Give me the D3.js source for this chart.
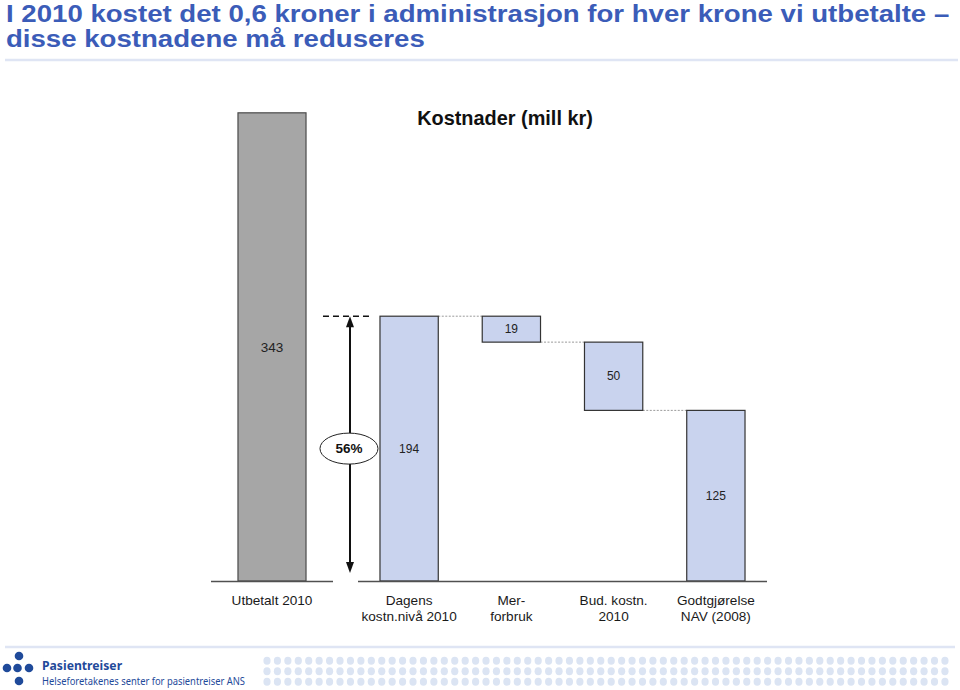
<!DOCTYPE html>
<html>
<head>
<meta charset="utf-8">
<script src="https://cdn.jsdelivr.net/npm/d3@7"></script>
<style>
  html, body { margin: 0; padding: 0; background: #fff; }
  svg { display: block; }
</style>
</head>
<body>
<svg id="chart" width="960" height="690"></svg>
<script>
// ---------- data ----------
const titleLines = [
  "I 2010 kostet det 0,6 kroner i administrasjon for hver krone vi utbetalte –",
  "disse kostnadene må reduseres"
];
const chartTitle = "Kostnader (mill kr)";
const categories = ["Utbetalt 2010", "Dagens kostn.nivå 2010", "Mer-forbruk", "Bud. kostn. 2010", "Godtgjørelse NAV (2008)"];
const categoryLines = [["Utbetalt 2010"], ["Dagens", "kostn.nivå 2010"], ["Mer-", "forbruk"], ["Bud. kostn.", "2010"], ["Godtgjørelse", "NAV (2008)"]];
const values = [343, 194, 19, 50, 125];
const barKinds = ["reference", "total", "step", "step", "total"];
const shareLabel = "56%";
const footerName = "Pasientreiser";
const footerSub = "Helseforetakenes senter for pasientreiser ANS";

// ---------- layout ----------
const svg = d3.select("#chart");
const font = "'Liberation Sans', Arial, Helvetica, sans-serif";
const titleColor = "#3b5cb8";

// waterfall extents
let level = 0;
const bars = categories.map((c, i) => {
  const v = values[i];
  let lo, hi;
  if (barKinds[i] === "step") { hi = level; lo = level - v; level = lo; }
  else { lo = 0; hi = v; if (barKinds[i] === "total") level = v; }
  return { cat: c, value: v, lo, hi, kind: barKinds[i], lines: categoryLines[i] };
});

const y = d3.scaleLinear().domain([0, 348]).range([581, 106]);
const xLeft = d3.scaleBand().domain(categories.slice(0, 1)).range([211, 333]).padding(0.284);
const xRight = d3.scaleBand().domain(categories.slice(1)).range([358, 767]).paddingInner(0.43).paddingOuter(0.215);
const xs = c => xLeft.domain().includes(c) ? xLeft : xRight;
const bx = c => xs(c)(c);
const bw = c => xs(c).bandwidth();

// ---------- title ----------
const tg = svg.append("g").attr("transform", "translate(6,0) scale(1.175,1)");
tg.selectAll("text").data(titleLines).join("text")
  .attr("x", 0).attr("y", (d, i) => 22 + i * 25)
  .attr("font-family", font).attr("font-weight", "bold").attr("font-size", 23.5)
  .attr("fill", titleColor).text(d => d);
svg.append("line").attr("x1", 5).attr("x2", 958).attr("y1", 60).attr("y2", 60)
  .attr("stroke", "#dfe5f4").attr("stroke-width", 2.5);

// chart title
svg.append("text").attr("x", 505).attr("y", 125).attr("text-anchor", "middle")
  .attr("font-family", font).attr("font-weight", "bold").attr("font-size", 19.9)
  .attr("fill", "#111").text(chartTitle);

// ---------- connectors ----------
const steps = bars.slice(1);
for (let i = 0; i < steps.length - 1; i++) {
  const a = steps[i], b = steps[i + 1];
  const lv = a.kind === "step" ? a.lo : a.hi;
  svg.append("line")
    .attr("x1", bx(a.cat) + bw(a.cat)).attr("x2", bx(b.cat))
    .attr("y1", y(lv)).attr("y2", y(lv))
    .attr("stroke", "#9a9a9a").attr("stroke-width", 1).attr("stroke-dasharray", "2,1.5");
}

// ---------- bars ----------
svg.append("g").selectAll("rect").data(bars).join("rect")
  .attr("x", d => bx(d.cat)).attr("width", d => bw(d.cat))
  .attr("y", d => y(d.hi)).attr("height", d => y(d.lo) - y(d.hi))
  .attr("fill", d => d.kind === "reference" ? "#a6a6a6" : "#c9d3ee")
  .attr("stroke", d => d.kind === "reference" ? "#4a4a4a" : "#333")
  .attr("stroke-width", 1.2);

svg.append("g").selectAll("text").data(bars).join("text")
  .attr("x", d => bx(d.cat) + bw(d.cat) / 2)
  .attr("y", d => (y(d.lo) + y(d.hi)) / 2)
  .attr("dy", "0.35em").attr("text-anchor", "middle")
  .attr("font-family", font).attr("font-size", d => d.kind === "reference" ? 13.5 : 12)
  .attr("fill", "#222").text(d => d.value);

// ---------- baselines ----------
[xLeft, xRight].forEach(s => {
  svg.append("line").attr("x1", s.range()[0]).attr("x2", s.range()[1])
    .attr("y1", y(0) + 0.5).attr("y2", y(0) + 0.5)
    .attr("stroke", "#505050").attr("stroke-width", 1.5);
});

// ---------- category labels ----------
const lab = svg.append("g").selectAll("text").data(bars).join("text")
  .attr("text-anchor", "middle").attr("font-family", font).attr("font-size", 13.6).attr("fill", "#1a1a1a");
lab.selectAll("tspan").data(d => d.lines.map(l => ({ l, d }))).join("tspan")
  .attr("x", o => bx(o.d.cat) + bw(o.d.cat) / 2)
  .attr("y", (o, i) => 605 + i * 15.5)
  .text(o => o.l);

// ---------- share arrow ----------
const dag = bars[1];
const ax = bx(dag.cat) - 30;
const yTop = y(dag.hi), yBot = y(0) - 8;
svg.append("line").attr("x1", ax - 27).attr("x2", ax + 22).attr("y1", yTop).attr("y2", yTop)
  .attr("stroke", "#111").attr("stroke-width", 1.5).attr("stroke-dasharray", "6,4");
svg.append("line").attr("x1", ax).attr("x2", ax).attr("y1", yTop + 8).attr("y2", yBot - 8)
  .attr("stroke", "#111").attr("stroke-width", 2);
svg.append("path").attr("d", `M${ax},${yTop} L${ax - 4},${yTop + 11} L${ax + 4},${yTop + 11} Z`).attr("fill", "#111");
svg.append("path").attr("d", `M${ax},${yBot} L${ax - 4},${yBot - 11} L${ax + 4},${yBot - 11} Z`).attr("fill", "#111");
const ey = (yTop + y(0)) / 2;
svg.append("ellipse").attr("cx", ax - 1).attr("cy", ey).attr("rx", 29).attr("ry", 15.5)
  .attr("fill", "#fff").attr("stroke", "#222").attr("stroke-width", 1);
svg.append("text").attr("x", ax - 1).attr("y", ey).attr("dy", "0.35em").attr("text-anchor", "middle")
  .attr("font-family", font).attr("font-weight", "bold").attr("font-size", 13.5).attr("fill", "#111")
  .text(shareLabel);

// ---------- footer ----------
svg.append("line").attr("x1", 5).attr("x2", 955).attr("y1", 647).attr("y2", 647)
  .attr("stroke", "#dfe5f4").attr("stroke-width", 2.5);
const logo = [[19, 656], [7, 668], [17.5, 668], [29, 668], [19, 681]];
svg.append("g").selectAll("circle").data(logo).join("circle")
  .attr("cx", d => d[0]).attr("cy", d => d[1]).attr("r", 4.3).attr("fill", "#1f4a9a");
svg.append("text").attr("x", 42).attr("y", 670).attr("font-family", "'Noto Sans', 'Open Sans', sans-serif")
  .attr("font-weight", "bold").attr("font-size", 12.2).attr("fill", "#1f4a9a").text(footerName);
svg.append("text").attr("x", 42).attr("y", 685).attr("font-family", "'Noto Sans', 'Open Sans', sans-serif")
  .attr("font-size", 10.3).attr("fill", "#1f4a9a")
  .attr("textLength", 203).attr("lengthAdjust", "spacingAndGlyphs").text(footerSub);
const dotCols = d3.range(66), dotRows = d3.range(3);
const dots = [];
dotRows.forEach(r => dotCols.forEach(c => dots.push([267 + c * 10.43, 660.7 + r * 10.5])));
svg.append("g").selectAll("ellipse").data(dots).join("ellipse")
  .attr("cx", d => d[0]).attr("cy", d => d[1]).attr("rx", 3.6).attr("ry", 4)
  .attr("fill", "#dbe4f3");
</script>
</body>
</html>
